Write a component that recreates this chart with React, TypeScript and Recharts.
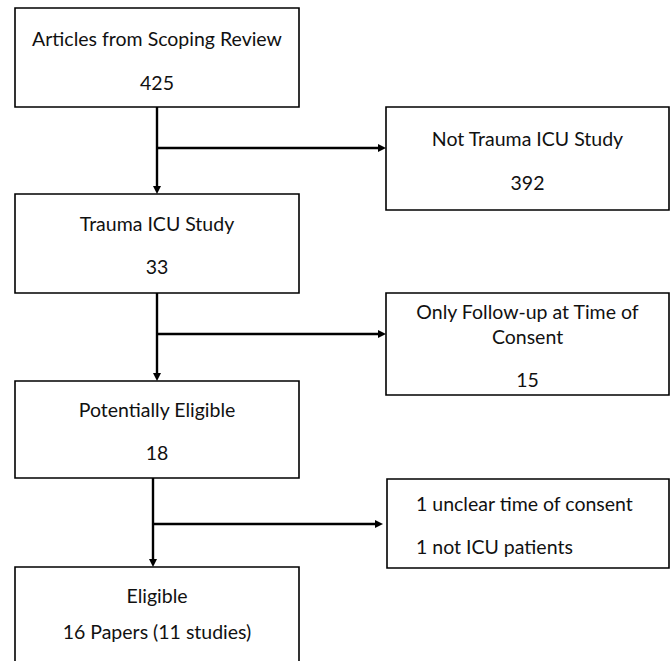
import React from 'react';
import { ComposedChart, XAxis, YAxis, ReferenceArea, ReferenceLine, ReferenceDot } from 'recharts';

// ---- data ----
const stageTitles = ['Articles from Scoping Review', 'Trauma ICU Study', 'Potentially Eligible', 'Eligible'];
const stageCounts = ['425', '33', '18', '16 Papers (11 studies)'];
const exclusionTitles = [['Not Trauma ICU Study'], ['Only Follow-up at Time of', 'Consent'], ['1 unclear time of consent', '1 not ICU patients']];
const exclusionCounts = ['392', '15', ''];

// ---- layout (pixel-space domain) ----
const W = 671;
const H = 661;
const stageBoxes = [
  { x1: 15, x2: 299, y1: 8, y2: 107, lines: [38, 82] },
  { x1: 15, x2: 299, y1: 194, y2: 293, lines: [223, 266] },
  { x1: 15, x2: 299, y1: 381, y2: 478, lines: [409, 452] },
  { x1: 15, x2: 299, y1: 567, y2: 690, lines: [595, 631] },
];
const exclusionBoxes = [
  { x1: 386, x2: 669, y1: 107, y2: 210, lines: [138, 182], align: 'middle' },
  { x1: 386, x2: 669, y1: 293, y2: 395, lines: [311, 336, 379], align: 'middle' },
  { x1: 387, x2: 669, y1: 479, y2: 568, lines: [503, 546], align: 'start' },
];
const connectors = [
  { x: 157, yFrom: 107, yTo: 194, branchY: 148, branchTo: 386 },
  { x: 157, yFrom: 293, yTo: 381, branchY: 334, branchTo: 386 },
  { x: 153, yFrom: 478, yTo: 567, branchY: 524, branchTo: 383 },
];

const FONT = 'Lato, "Noto Sans", sans-serif';
const FS = 19.5;

function makeLabel(texts: string[], ys: number[], align: string, y1: number) {
  return (p: any) => {
    const vb = p.viewBox || {};
    const x0 = vb.x ?? 0;
    const w = vb.width ?? 0;
    const top = vb.y ?? 0;
    const tx = align === 'start' ? x0 + 29 : x0 + w / 2;
    return (
      <g>
        {texts.map((t, i) => (
          <text
            key={i}
            x={tx}
            y={top + (ys[i] - y1)}
            textAnchor={align as any}
            dominantBaseline="central"
            fontFamily={FONT}
            fontSize={FS}
            fill="#111"
          >
            {t}
          </text>
        ))}
      </g>
    );
  };
}

const arrowDown = (p: any) => (
  <polygon points={`${p.cx - 4},${p.cy - 8} ${p.cx + 4},${p.cy - 8} ${p.cx},${p.cy}`} fill="#000" />
);
const arrowRight = (p: any) => (
  <polygon points={`${p.cx - 8},${p.cy - 4} ${p.cx - 8},${p.cy + 4} ${p.cx},${p.cy}`} fill="#000" />
);

export default function App() {
  return (
    <div style={{ position: 'absolute', left: 0, top: 0, width: W, height: H, background: '#fff' }}>
      <ComposedChart width={W} height={H} data={[]} margin={{ top: 0, right: 0, bottom: 0, left: 0 }}>
        <XAxis type="number" dataKey="x" domain={[0, W]} hide allowDataOverflow />
        <YAxis type="number" dataKey="y" domain={[0, H]} reversed hide allowDataOverflow />
        {connectors.map((c, i) => (
          <ReferenceLine
            key={`v${i}`}
            segment={[{ x: c.x, y: c.yFrom }, { x: c.x, y: c.yTo - 4 }]}
            stroke="#000"
            strokeWidth={2.4}
            ifOverflow="visible"
          />
        ))}
        {connectors.map((c, i) => (
          <ReferenceLine
            key={`h${i}`}
            segment={[{ x: c.x, y: c.branchY }, { x: c.branchTo - 4, y: c.branchY }]}
            stroke="#000"
            strokeWidth={2.4}
            ifOverflow="visible"
          />
        ))}
        {connectors.map((c, i) => (
          <ReferenceDot key={`ad${i}`} x={c.x} y={c.yTo} r={4} shape={arrowDown} ifOverflow="visible" />
        ))}
        {connectors.map((c, i) => (
          <ReferenceDot key={`ar${i}`} x={c.branchTo} y={c.branchY} r={4} shape={arrowRight} ifOverflow="visible" />
        ))}
        {stageBoxes.map((b, i) => (
          <ReferenceArea
            key={`s${i}`}
            x1={b.x1}
            x2={b.x2}
            y1={b.y1}
            y2={b.y2}
            fill="#fff"
            fillOpacity={1}
            stroke="#000"
            strokeWidth={1.6}
            ifOverflow="hidden"
            label={{ content: makeLabel([stageTitles[i], stageCounts[i]], b.lines, 'middle', b.y1) } as any}
          />
        ))}
        {exclusionBoxes.map((b, i) => (
          <ReferenceArea
            key={`e${i}`}
            x1={b.x1}
            x2={b.x2}
            y1={b.y1}
            y2={b.y2}
            fill="#fff"
            fillOpacity={1}
            stroke="#000"
            strokeWidth={1.6}
            ifOverflow="visible"
            label={{
              content: makeLabel(
                exclusionCounts[i] ? [...exclusionTitles[i], exclusionCounts[i]] : exclusionTitles[i],
                b.lines,
                b.align,
                b.y1
              ),
            } as any}
          />
        ))}
      </ComposedChart>
    </div>
  );
}
